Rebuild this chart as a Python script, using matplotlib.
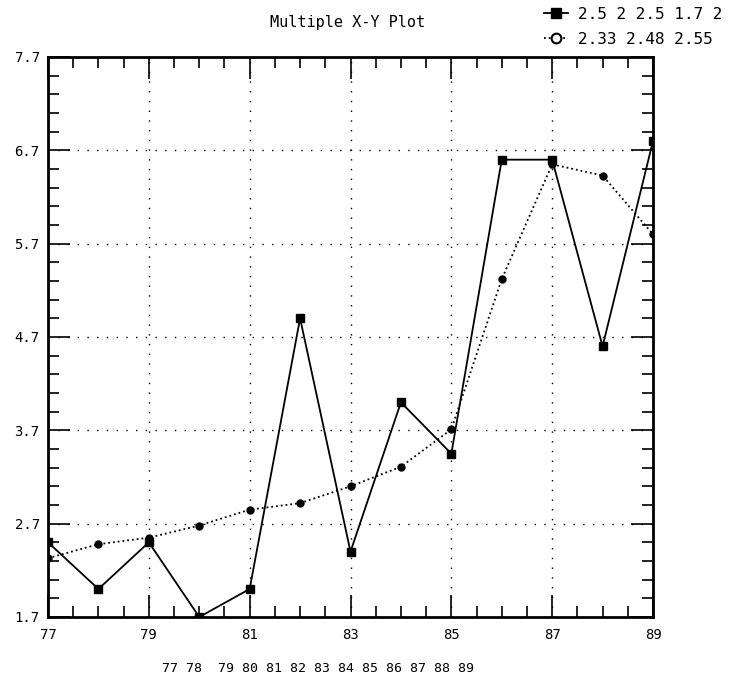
import numpy as np
import matplotlib
matplotlib.use("Agg")
import matplotlib.pyplot as plt
from matplotlib.ticker import MultipleLocator, FixedLocator
from matplotlib.lines import Line2D

# dados
years = [77, 78, 79, 80, 81, 82, 83, 84, 85, 86, 87, 88, 89]
serie_a = [2.5, 2.0, 2.5, 1.7, 2.0, 4.9, 2.4, 4.0, 3.45, 6.6, 6.6, 4.6, 6.8]
serie_b = [2.33, 2.48, 2.55, 2.68, 2.85, 2.92, 3.1, 3.31, 3.71, 5.32, 6.55, 6.43, 5.8]
xticks_lab = [77, 79, 81, 83, 85, 87, 89]
yticks_lab = [1.7, 2.7, 3.7, 4.7, 5.7, 6.7, 7.7]

plt.rcParams['font.family'] = ['DejaVu Sans Mono']

fig = plt.figure(figsize=(7.29, 6.89), dpi=100)
ax = fig.add_axes([48/729, 1 - 617/689, (653-48)/729, (617-57)/689])

ax.plot(years, serie_a, '-', color='black', lw=1.3, marker='s', ms=6)
ax.plot(years, serie_b, ':', color='black', lw=1.3, marker='o', ms=5)

ax.set_xlim(77, 89)
ax.set_ylim(1.7, 7.7)

ax.xaxis.set_major_locator(FixedLocator(xticks_lab))
ax.xaxis.set_minor_locator(MultipleLocator(0.5))
ax.yaxis.set_major_locator(FixedLocator(yticks_lab))
ax.yaxis.set_minor_locator(MultipleLocator(0.2, offset=0.1))
ax.set_xticklabels([str(v) for v in xticks_lab])
ax.set_yticklabels(['%.1f' % v for v in yticks_lab])

ax.tick_params(which='both', direction='in', top=True, right=True, labelsize=10, width=1.2)
ax.tick_params(which='major', length=16, pad=8)
ax.tick_params(which='minor', length=8)
ax.tick_params(axis='y', which='major', pad=6)

for s in ax.spines.values():
    s.set_linewidth(2)

ax.grid(True, which='major', color='black', linestyle=(0, (1, 6)), lw=1)

fig.text(348/729, 1 - 23/689, 'Multiple X-Y Plot', ha='center', va='center', fontsize=11)
fig.text(162/729, 1 - 668/689, '77 78  79 80 81 82 83 84 85 86 87 88 89',
         ha='left', va='center', fontsize=9.5)

# a legenda aparece cortada na borda da figura
lab_a = ' '.join('%g' % v for v in serie_a[:5])
lab_b = ' '.join('%g' % v for v in serie_b[:3])
h_a = Line2D([], [], color='black', lw=1.3, marker='s', ms=7)
h_b = Line2D([], [], color='black', lw=1.3, ls=':', marker='o', ms=7,
             markerfacecolor='white', markeredgewidth=1.5)
fig.legend([h_a, h_b], [lab_a, lab_b], loc='upper left', bbox_to_anchor=(544/729, 1 - 7/689),
           frameon=False, fontsize=11.5, handlelength=1.5, handletextpad=0.6,
           labelspacing=0.6, borderpad=0, borderaxespad=0)

plt.savefig('out.png', dpi=100)
